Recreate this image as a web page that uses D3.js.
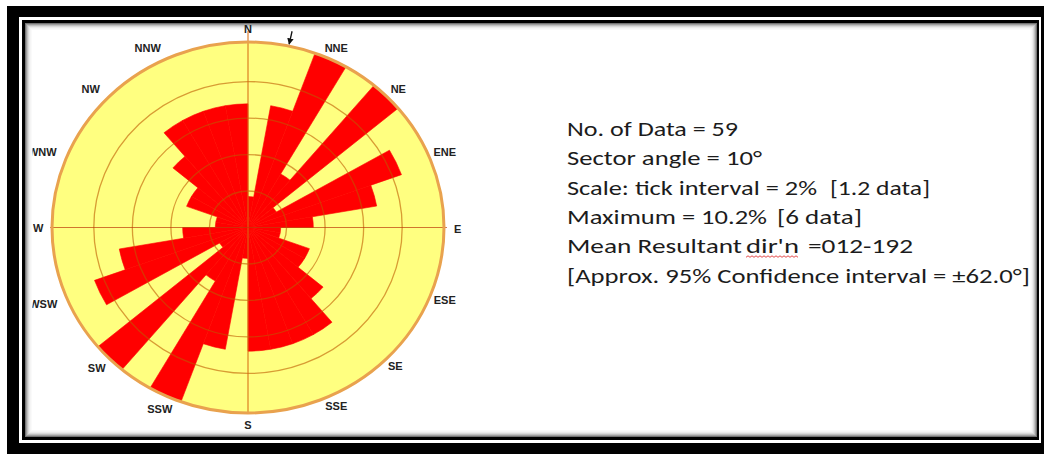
<!DOCTYPE html>
<html>
<head>
<meta charset="utf-8">
<script src="https://cdn.jsdelivr.net/npm/d3@7"></script>
<style>
  html, body { margin: 0; padding: 0; background: #fff; }
  svg { display: block; }
</style>
</head>
<body>
<svg id="chart" width="1046" height="454"></svg>
<script>
// Axial orientation data, 10° sectors clockwise from north.
// Counts for 0–180°; the 180–360° half repeats them (bidirectional rose).
const halfSectorCounts = [1, 4, 6, 2, 6, 1, 5, 4, 2, 1, 1, 2, 2, 3, 4, 4, 4, 4];
const sectorAngle = 10;
const totalData = 59;
const tickPercents = [2, 4, 6, 8];
const compassLabels = ["N", "NNE", "NE", "ENE", "E", "ESE", "SE", "SSE",
                       "S", "SSW", "SW", "WSW", "W", "WNW", "NW", "NNW"];
const meanResultantDir = 12;
const statLines = [
  "No. of Data = 59",
  "Sector angle = 10°",
  "Scale: tick interval = 2%  [1.2 data]",
  "Maximum = 10.2%  [6 data]",
  "Mean Resultant dir'n  =012-192",
  "[Approx. 95% Confidence interval = ±62.0°]"
];

const sectorCounts = halfSectorCounts.concat(halfSectorCounts);
const sectors = sectorCounts.map((c, i) => ({
  start: i * sectorAngle,
  count: c,
  pct: c / totalData * 100
}));
const maxPct = d3.max(sectors, d => d.pct);

const svg = d3.select("#chart");
const defs = svg.append("defs");

// ---- double frame with inner shadow ----
svg.append("rect").attr("x", 7).attr("y", 6).attr("width", 1037).attr("height", 448).attr("fill", "#000");
svg.append("rect").attr("x", 19).attr("y", 17).attr("width", 1022).attr("height", 426).attr("fill", "#fff");
svg.append("rect").attr("x", 22).attr("y", 20).attr("width", 1017).attr("height", 420).attr("fill", "#000");
svg.append("rect").attr("x", 25).attr("y", 23).attr("width", 1012).attr("height", 414).attr("fill", "#fff");
const shadowOpac = [0.55, 0.38, 0.25, 0.15, 0.08, 0.04, 0.02];
shadowOpac.forEach((o, i) => {
  svg.append("rect")
    .attr("x", 25 + i + 0.5).attr("y", 23 + i + 0.5)
    .attr("width", 1012 - 2 * i - 1).attr("height", 414 - 2 * i - 1)
    .attr("fill", "none").attr("stroke", "#000").attr("stroke-opacity", o);
});

// ---- rose diagram ----
const cx = 248, cy = 227.5, R = 196, ky = 185.5 / 196;
const toRad = a => a * Math.PI / 180;
const r = d3.scaleLinear().domain([0, maxPct]).range([0, R]);

const rose = svg.append("g").attr("transform", `translate(${cx},${cy}) scale(1,${ky})`);

rose.append("circle").attr("r", R).attr("fill", "#ffff80");

const arc = d3.arc().innerRadius(0);
rose.selectAll("path.petal")
  .data(sectors)
  .join("path")
  .attr("class", "petal")
  .attr("d", d => arc({
    outerRadius: r(d.pct),
    startAngle: toRad(d.start),
    endAngle: toRad(d.start + sectorAngle)
  }))
  .attr("fill", "#ff0000")
  .attr("stroke", "#ff0000")
  .attr("stroke-width", 0.6)
  .attr("vector-effect", "non-scaling-stroke");

// percentage rings
rose.selectAll("circle.ring")
  .data(tickPercents)
  .join("circle")
  .attr("class", "ring")
  .attr("r", d => r(d))
  .attr("fill", "none")
  .attr("stroke", "rgb(190,90,0)")
  .attr("stroke-opacity", 0.6)
  .attr("stroke-width", 1.3)
  .attr("vector-effect", "non-scaling-stroke");

// N–S and E–W axes
rose.append("line")
  .attr("x1", 0).attr("x2", 0).attr("y1", -(cy - 31) / ky).attr("y2", (413 - cy) / ky)
  .attr("stroke", "rgb(215,110,20)").attr("stroke-opacity", 0.7).attr("stroke-width", 1.5)
  .attr("vector-effect", "non-scaling-stroke");
rose.append("line")
  .attr("x1", -R - 2).attr("x2", R + 3).attr("y1", 0).attr("y2", 0)
  .attr("stroke", "rgb(190,60,10)").attr("stroke-opacity", 0.7).attr("stroke-width", 1.2)
  .attr("vector-effect", "non-scaling-stroke");

// outer boundary
rose.append("circle").attr("r", R).attr("fill", "none")
  .attr("stroke", "#e9a24e").attr("stroke-width", 3)
  .attr("vector-effect", "non-scaling-stroke");

// screen point for a bearing (deg) and a radius measured along x
const pt = (deg, rr) => [cx + rr * Math.sin(toRad(deg)), cy - rr * ky * Math.cos(toRad(deg))];

// mean resultant direction marker
defs.append("marker")
  .attr("id", "tip").attr("viewBox", "0 0 10 10").attr("refX", 9).attr("refY", 5)
  .attr("markerWidth", 5).attr("markerHeight", 5).attr("orient", "auto")
  .append("path").attr("d", "M0,0 L10,5 L0,10 z").attr("fill", "#111");
const a0 = pt(meanResultantDir, R + 16), a1 = pt(meanResultantDir, R + 2);
svg.append("line")
  .attr("x1", a0[0]).attr("y1", a0[1]).attr("x2", a1[0]).attr("y2", a1[1])
  .attr("stroke", "#111").attr("stroke-width", 1.3)
  .attr("marker-end", "url(#tip)");

// compass point labels: placed on a ring just outside the rose, with small hand nudges
const labelNudge = [
  [0, 0], [8, 4], [2, 2], [3, 0.5], [0, 1.5], [3, -3.5], [-1, -2], [8, -5],
  [0, -1], [-8, -2], [-3, 0], [-11, 0.5], [0, 0.5], [-12, 0.5], [-9, 2], [-20, 4]
];
defs.append("clipPath").attr("id", "imgClip")
  .append("rect").attr("x", 32.5).attr("y", 23).attr("width", 500).attr("height", 414);
svg.append("g").attr("clip-path", "url(#imgClip)")
  .selectAll("text")
  .data(compassLabels)
  .join("text")
  .each(function (d, i) {
    const p = pt(i * 22.5, R * 1.07);
    d3.select(this).attr("x", p[0] + labelNudge[i][0]).attr("y", p[1] + labelNudge[i][1]);
  })
  .attr("text-anchor", "middle")
  .attr("dominant-baseline", "central")
  .attr("font-family", "'Liberation Sans', Arial, sans-serif")
  .attr("font-weight", "bold")
  .attr("font-size", 11)
  .attr("fill", "#222")
  .text(d => d);

// ---- statistics text ----
// each line is split into runs with their own start and width
const statRuns = [
  [[0, 16, 567, 171]],
  [[0, 18, 567, 195]],
  [[0, 25, 567, 250], [27, 37, 830, 100]],
  [[0, 15, 567, 200], [17, 25, 777, 85]],
  [[0, 14, 567, 175], [15, 20, 746, 53], [22, 30, 808, 105]],
  [[0, 42, 567, 463]]
];
const statG = svg.append("g")
  .attr("font-family", "Carlito, Lato, 'Open Sans', sans-serif")
  .attr("font-size", 21)
  .attr("fill", "#1c1c1c");
statLines.forEach((s, i) => {
  const y = 135.7 + i * 29.4;
  const t = statG.append("text").attr("y", y);
  statRuns[i].forEach(([a, b, x, w]) => {
    t.append("tspan").attr("x", x).attr("textLength", w)
      .attr("lengthAdjust", "spacingAndGlyphs").text(s.slice(a, b));
  });
  if (i === 4) {
    // spell-check squiggle under "dir'n"
    const [, , x0, w] = statRuns[i][1];
    const yy = y + 4;
    const p = d3.path();
    p.moveTo(x0, yy);
    let up = true;
    for (let x = x0 + 2; x <= x0 + w + 0.1; x += 2) { p.lineTo(x, up ? yy - 1.5 : yy); up = !up; }
    statG.append("path").attr("d", p.toString()).attr("fill", "none")
      .attr("stroke", "#e03535").attr("stroke-width", 0.9);
  }
});
</script>
</body>
</html>
